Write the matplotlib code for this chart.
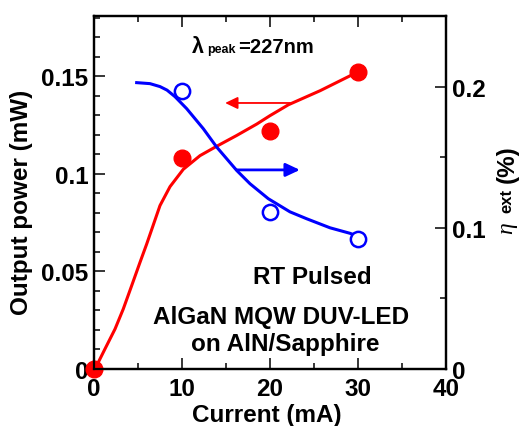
import numpy as np
import matplotlib.pyplot as plt
from matplotlib import ticker

plt.rcParams['font.family'] = ['Liberation Sans', 'DejaVu Sans']
plt.rcParams['font.weight'] = 'bold'

# Measured points
current_pts = [0, 10, 20, 30]
power_pts = [0, 0.108, 0.122, 0.1525]
eff_current_pts = [10, 20, 30]
eff_pts = [0.197, 0.111, 0.0922]

# Fitted curves
power_fit_x = [0, 0.3, 1.25, 2.39, 3.33, 4.28, 5.23, 5.99, 6.55, 7.5, 8.64, 10.15, 12.05, 13.94,
               16.2, 18.5, 20, 22.1, 25.7, 29.4, 30]
power_fit_y = [0, 0.0017, 0.0103, 0.0205, 0.0308, 0.0427, 0.0547, 0.0641, 0.0714, 0.0838, 0.0935,
               0.1024, 0.1094, 0.1142, 0.1197, 0.1256, 0.1299, 0.1355, 0.1427, 0.1510, 0.1525]
eff_fit_x = [4.85, 6.36, 7.5, 8.3, 9.2, 10.53, 12.42, 13.94, 16.22, 17.73, 19.81, 22.27, 24.17,
             26.82, 29.09, 29.8]
eff_fit_y = [0.2028, 0.2021, 0.2000, 0.1975, 0.1929, 0.1844, 0.1702, 0.1572, 0.1406, 0.1312,
             0.1206, 0.1113, 0.1064, 0.1000, 0.0961, 0.0945]

red = '#ff0000'
blue = '#0000ff'
fs = 17.5

fig = plt.figure(figsize=(5.19, 4.27), dpi=100)
ax = fig.add_axes([0.1811, 0.1335, 0.6782, 0.8267])
ax2 = ax.twinx()

ax.plot(power_fit_x, power_fit_y, color=red, lw=2.2, zorder=3)
ax.plot(current_pts, power_pts, 'o', color=red, ms=12, zorder=5, clip_on=False)
ax2.plot(eff_fit_x, eff_fit_y, color=blue, lw=2.2, zorder=3)
ax2.plot(eff_current_pts, eff_pts, 'o', mfc='white', mec=blue, mew=1.8, ms=11, zorder=5)

ax.annotate('', xy=(14.9, 0.1364), xytext=(22.3, 0.1364),
            arrowprops=dict(arrowstyle='-|>,head_length=0.75,head_width=0.36', color=red, lw=1.3,
                            shrinkA=0, shrinkB=0, mutation_scale=10))
ax2.annotate('', xy=(23.4, 0.141), xytext=(16.2, 0.141),
             arrowprops=dict(arrowstyle='-|>,head_length=0.85,head_width=0.4', color=blue, lw=2.0,
                             shrinkA=0, shrinkB=0, mutation_scale=10))

ax.set_xlim(0, 40)
ax.set_ylim(0, 0.181)
ax2.set_ylim(0, 0.25)

ax.xaxis.set_major_locator(ticker.MultipleLocator(10))
ax.xaxis.set_minor_locator(ticker.MultipleLocator(5))
ax.yaxis.set_major_locator(ticker.MultipleLocator(0.05))
ax.yaxis.set_minor_locator(ticker.MultipleLocator(0.01))
ax2.yaxis.set_major_locator(ticker.MultipleLocator(0.1))
ax2.yaxis.set_minor_locator(ticker.MultipleLocator(0.05))
ax.yaxis.set_major_formatter(ticker.FormatStrFormatter('%g'))
ax2.yaxis.set_major_formatter(ticker.FormatStrFormatter('%g'))

ax.tick_params(axis='x', which='both', direction='in', top=True, bottom=True)
ax.tick_params(axis='y', which='both', direction='in', left=True, right=False)
ax2.tick_params(axis='y', which='both', direction='in', right=True)
for a in (ax, ax2):
    a.tick_params(which='major', length=8, width=1.1, labelsize=fs, pad=4)
    a.tick_params(which='minor', length=4.5, width=1.1)
    for s in a.spines.values():
        s.set_linewidth(1.6)
ax.tick_params(axis='x', pad=6)

ax.set_xlabel('Current (mA)', fontsize=fs, fontweight='bold')
ax.xaxis.set_label_coords(0.49, -0.097)
ax.xaxis.label.set_va('top')
ax.set_ylabel('Output power (mW)', fontsize=fs, fontweight='bold')
ax.yaxis.set_label_coords(-0.172, 0.475)

# right axis label: eta_ext (%)
fig.text(507 / 519, 1 - 228 / 427, 'η', rotation=90, fontsize=17, family='Liberation Serif',
         style='italic', fontweight='normal', ha='center', va='center')
fig.text(507 / 519, 1 - 201 / 427, 'ext', rotation=90, fontsize=12, fontweight='bold',
         ha='center', va='center')
fig.text(507 / 519, 1 - 164 / 427, '(%)', rotation=90, fontsize=fs, fontweight='bold',
         ha='center', va='center')

# lambda peak text
fig.text(192 / 519, 1 - 53 / 427, 'λ', fontsize=15.5, fontweight='bold', va='baseline')
fig.text(207 / 519, 1 - 53 / 427, 'peak', fontsize=9, fontweight='bold', va='baseline')
fig.text(238 / 519, 1 - 53 / 427, '=227nm', fontsize=14.5, fontweight='bold', va='baseline')

ax.text(31.6, 0.0441, 'RT Pulsed', fontsize=fs, fontweight='bold', ha='right', va='baseline')
ax.text(21.25, 0.0236, 'AlGaN MQW DUV-LED', fontsize=fs, fontweight='bold', ha='center', va='baseline')
ax.text(21.7, 0.0097, 'on AlN/Sapphire', fontsize=fs, fontweight='bold', ha='center', va='baseline')

fig.savefig('out.png', dpi=100)
